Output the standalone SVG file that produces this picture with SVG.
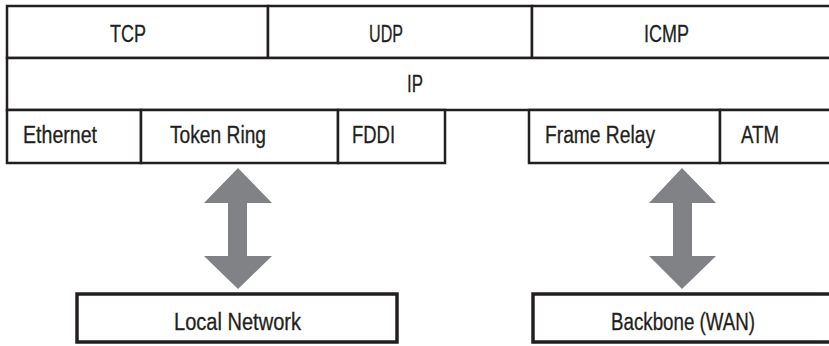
<svg xmlns="http://www.w3.org/2000/svg" width="829" height="346" viewBox="0 0 829 346">
<style>
.cell{fill:#ffffff;stroke:#231f20;stroke-width:2.5}
.box{fill:#ffffff;stroke:#231f20;stroke-width:3.5}
.lbl{font-family:"Liberation Sans",Arial,sans-serif;font-size:23.5px;fill:#231f20;stroke:#231f20;stroke-width:0.3}
.arr{fill:#808285}
</style>
<rect width="829" height="346" fill="#ffffff"/>
<g id="tcp"><rect class="cell" x="7" y="6" width="261" height="52"/><text class="lbl" x="110" y="42" textLength="36" lengthAdjust="spacingAndGlyphs">TCP</text></g>
<g id="udp"><rect class="cell" x="268" y="6" width="264" height="52"/><text class="lbl" x="369" y="42" textLength="34" lengthAdjust="spacingAndGlyphs">UDP</text></g>
<g id="icmp"><rect class="cell" x="532" y="6" width="310" height="52"/><text class="lbl" x="644" y="42" textLength="45" lengthAdjust="spacingAndGlyphs">ICMP</text></g>
<g id="ip"><rect class="cell" x="7" y="58" width="835" height="52"/><text class="lbl" x="407" y="92" textLength="16" lengthAdjust="spacingAndGlyphs">IP</text></g>
<g id="ethernet"><rect class="cell" x="7" y="110" width="134" height="53"/><text class="lbl" x="23" y="143" textLength="74" lengthAdjust="spacingAndGlyphs">Ethernet</text></g>
<g id="tokenring"><rect class="cell" x="141" y="110" width="197" height="53"/><text class="lbl" x="170" y="143" textLength="96" lengthAdjust="spacingAndGlyphs">Token Ring</text></g>
<g id="fddi"><rect class="cell" x="338" y="110" width="107" height="53"/><text class="lbl" x="352" y="143" textLength="43" lengthAdjust="spacingAndGlyphs">FDDI</text></g>
<g id="framerelay"><rect class="cell" x="529" y="110" width="191" height="53"/><text class="lbl" x="545" y="143" textLength="110" lengthAdjust="spacingAndGlyphs">Frame Relay</text></g>
<g id="atm"><rect class="cell" x="720" y="110" width="122" height="53"/><text class="lbl" x="741" y="143" textLength="38" lengthAdjust="spacingAndGlyphs">ATM</text></g>
<g id="localnetwork"><rect class="box" x="77" y="294" width="320" height="48"/><text class="lbl" x="174" y="330" textLength="127" lengthAdjust="spacingAndGlyphs">Local Network</text></g>
<g id="backbone"><rect class="box" x="533" y="294" width="310" height="48"/><text class="lbl" x="611" y="330" textLength="144" lengthAdjust="spacingAndGlyphs">Backbone (WAN)</text></g>
<g id="connectors">
<polygon class="arr" points="238,168 272,203 247,203 247,256 272,256 238,289 204,256 228,256 228,203 204,203"/>
<polygon class="arr" points="682,168 716,203 692,203 692,256 716,256 682,289 649,256 673,256 673,203 649,203"/>
</g>
</svg>
